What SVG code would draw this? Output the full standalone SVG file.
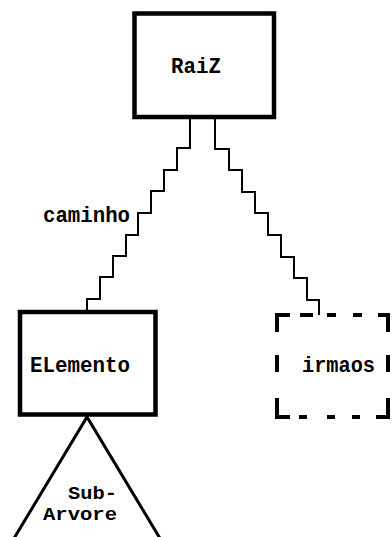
<svg xmlns="http://www.w3.org/2000/svg" width="392" height="537" viewBox="0 0 392 537">
<style>
.box{fill:#fff;stroke:#000;stroke-width:4.5}
.conn{fill:none;stroke:#000;stroke-width:2}
.lbl{font-family:"Liberation Mono","DejaVu Sans Mono",monospace;font-weight:bold;font-size:22px;fill:#000}
.sm{font-size:17.5px}
.dash{fill:none;stroke:#000;stroke-width:4}
</style>
<rect width="392" height="537" fill="#fff"/>
<g id="connectors">
<path class="conn" d="M190,117 V148 H177 V170 H164 V191 H151 V213 H138 V235 H126 V256 H113 V277 H100 V299 H87 V312"/>
<path class="conn" d="M215,117 V149 H229 V170 H242 V192 H255 V213 H268 V235 H281 V257 H294 V278 H307 V300 H319 V315"/>
<text class="lbl" x="43" y="222" textLength="87" lengthAdjust="spacingAndGlyphs">caminho</text>
</g>
<g id="raiz">
<rect class="box" x="134.5" y="13.5" width="139.5" height="103.5"/>
<text class="lbl" x="171" y="73" textLength="50" lengthAdjust="spacingAndGlyphs">RaiZ</text>
</g>
<g id="elemento">
<rect class="box" x="20" y="312" width="135.5" height="102.5"/>
<text class="lbl" x="30" y="372" textLength="100" lengthAdjust="spacingAndGlyphs">ELemento</text>
</g>
<g id="irmaos">
<path class="dash" d="M277,332 V315 H290 M300,315 H313 M327,315 H336 M353,315 H362 M378,315 H388 V332 M277,355 V372 M388,355 V372 M277,398 V417 H290 M299,417 H307 M327,417 H335 M352,417 H360 M376,417 H388 V398"/>
<text class="lbl" x="302" y="372" textLength="73" lengthAdjust="spacingAndGlyphs">irmaos</text>
</g>
<g id="subarvore">
<polyline fill="none" stroke="#000" stroke-width="3" points="10,545 87,417 164,545"/>
<text class="lbl sm" x="68" y="499" textLength="49" lengthAdjust="spacingAndGlyphs">Sub-</text>
<text class="lbl sm" x="43" y="520" textLength="74" lengthAdjust="spacingAndGlyphs">Arvore</text>
</g>
</svg>
